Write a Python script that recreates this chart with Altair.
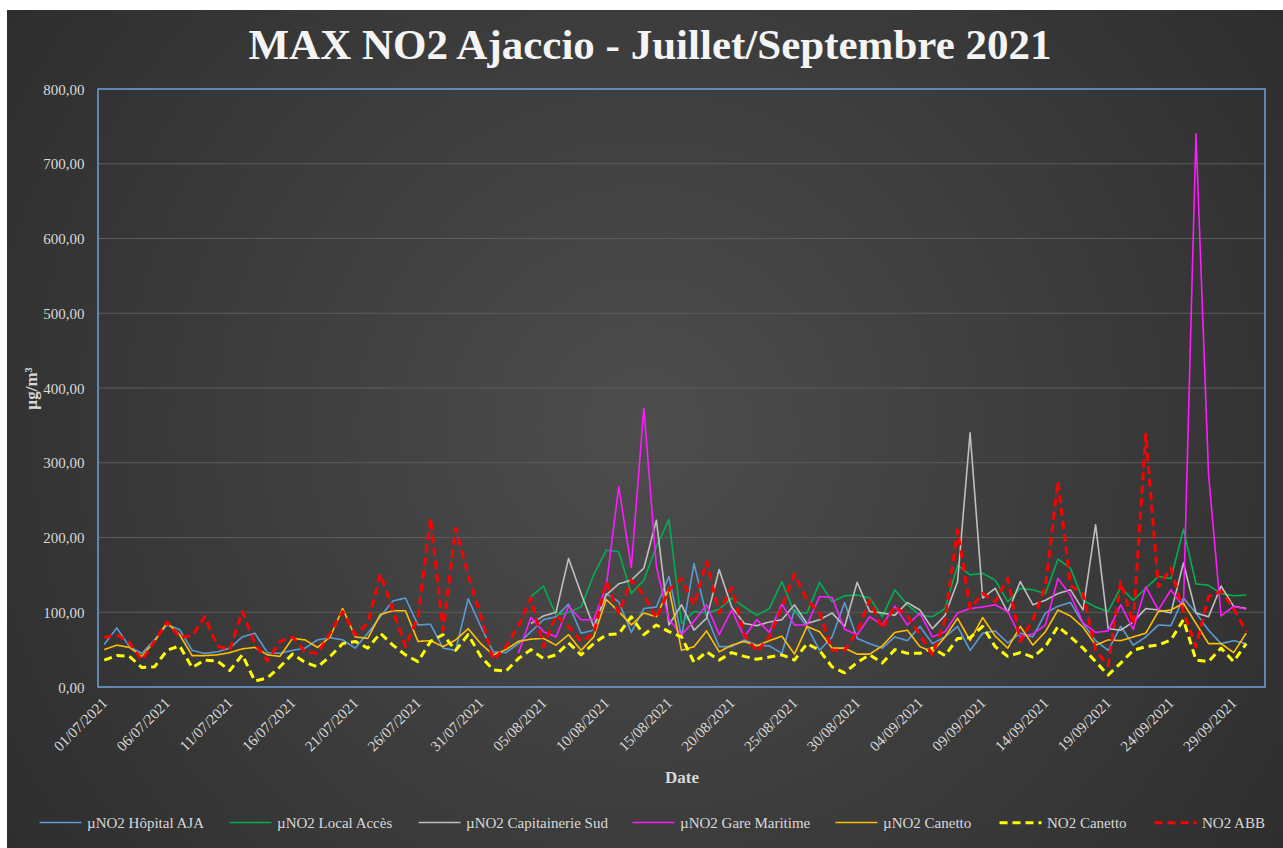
import altair as alt
import pandas as pd

# ---- data: daily maxima, 01/07/2021 -> 30/09/2021 (µg/m³) ----
n_days = 92
dates = pd.date_range("2021-07-01", periods=n_days, freq="D").strftime("%d/%m/%Y").tolist()

hopital = [57, 79, 54, 45, 63, 83, 77, 49, 45, 47,
           52, 67, 72, 46, 45, 49, 52, 63, 66, 63,
           52, 72, 94, 115, 119, 83, 84, 52, 49, 118,
           81, 47, 46, 58, 74, 90, 94, 111, 72, 76,
           125, 114, 73, 105, 107, 148, 67, 165, 95, 54,
           54, 63, 56, 55, 45, 103, 81, 49, 67, 113,
           65, 58, 52, 67, 62, 81, 58, 67, 81, 49,
           72, 75, 59, 72, 67, 99, 108, 113, 85, 62,
           49, 81, 56, 67, 83, 82, 119, 99, 76, 58,
           62, 58]

local_acces = [None] * 34 + [
           121, 135, 96, 100, 107, 150,
           183, 181, 125, 143, 188, 224, 85, 101, 99, 104,
           119, 107, 96, 105, 141, 99, 99, 140, 114, 122,
           123, 119, 94, 130, 110, 96, 94, 105, 163, 150,
           152, 143, 114, 132, 130, 125, 171, 159, 116, 107,
           101, 133, 116, 132, 148, 145, 211, 138, 136, 125,
           122, 123]

capitainerie = [None] * 34 + [
           85, 95, 100, 172, 125, 81,
           123, 138, 143, 159, 223, 83, 110, 76, 92, 157,
           107, 85, 82, 87, 90, 110, 85, 90, 99, 81,
           140, 101, 99, 96, 113, 103, 78, 96, 141, 340,
           119, 132, 100, 141, 110, 116, 125, 130, 103, 217,
           78, 76, 87, 105, 103, 99, 166, 99, 94, 135,
           108, 105]

gare_maritime = [None] * 33 + [
           45, 93, 74, 67, 108, 90, 90,
           134, 268, 160, 373, 161, 90, 70, 88, 110, 70,
           103, 67, 90, 73, 111, 83, 83, 121, 120, 77,
           70, 94, 83, 108, 83, 99, 67, 74, 99, 105,
           107, 110, 101, 67, 71, 83, 145, 123, 86, 73,
           75, 110, 77, 134, 103, 130, 107, 740, 285, 95,
           108, 104]

canetto_micro = [50, 56, 53, 41, 61, 86, 70, 42, 42, 43,
                 46, 51, 53, 43, 41, 65, 63, 53, 67, 105,
                 67, 65, 97, 102, 102, 61, 62, 54, 63, 78,
                 58, 43, 50, 61, 64, 65, 56, 70, 49, 67,
                 117, 101, 83, 99, 94, 132, 49, 54, 75, 47,
                 56, 61, 55, 62, 68, 44, 81, 74, 52, 52,
                 44, 44, 55, 73, 76, 54, 47, 67, 92, 62,
                 93, 68, 52, 81, 56, 74, 103, 95, 80, 56,
                 63, 62, 67, 72, 101, 103, 112, 85, 58, 58,
                 46, 72]

canetto_station = [36, 42, 41, 26, 27, 49, 55, 26, 36, 35,
                   22, 43, 8, 12, 27, 44, 33, 27, 41, 58,
                   61, 52, 72, 56, 43, 34, 61, 70, 49, 70,
                   41, 23, 21, 38, 50, 38, 43, 59, 43, 58,
                   70, 71, 94, 70, 83, 74, 67, 33, 47, 36,
                   46, 41, 37, 40, 43, 36, 58, 49, 27, 19,
                   33, 43, 32, 50, 45, 45, 52, 42, 65, 66,
                   81, 54, 41, 46, 40, 54, 81, 67, 52, 34,
                   16, 32, 49, 54, 56, 63, 90, 36, 34, 52,
                   34, 58]

abb = [66, 70, 59, 36, 61, 87, 67, 68, 94, 55,
       50, 101, 58, 35, 61, 67, 47, 45, 72, 101,
       70, 85, 151, 103, 54, 94, 226, 76, 212, 150,
       95, 36, 54, 81, 119, 54, 96, 81, 61, 71,
       141, 99, 143, 123, 92, 130, 145, 110, 168, 99,
       133, 70, 47, 67, 107, 151, 116, 99, 49, 49,
       74, 116, 78, 108, 95, 70, 43, 90, 210, 105,
       125, 114, 145, 61, 90, 134, 275, 136, 124, 49,
       29, 141, 85, 338, 134, 159, 101, 54, 121, 128,
       105, 74]

series_names = ["µNO2 Hôpital AJA", "µNO2 Local Accès", "µNO2 Capitainerie Sud",
                "µNO2 Gare Maritime", "µNO2 Canetto", "NO2 Canetto", "NO2 ABB"]
series_values = [hopital, local_acces, capitainerie, gare_maritime,
                 canetto_micro, canetto_station, abb]
series_colors = ["#5b9bd5", "#00b050", "#bfbfbf", "#ff1aff", "#ffc000", "#ffff00", "#ff0000"]
series_dash = [[1, 0]] * 5 + [[8, 5]] * 2
series_width = [1.6] * 5 + [3] * 2

y_ticks = [0, 100, 200, 300, 400, 500, 600, 700, 800]
x_ticks = list(range(0, n_days, 5))
chart_title = "MAX NO2 Ajaccio - Juillet/Septembre 2021"

rows = []
for name, vals in zip(series_names, series_values):
    for i, v in enumerate(vals):
        if v is not None:
            rows.append({"jour": i, "date": dates[i], "serie": name, "valeur": v})
df = pd.DataFrame(rows)

# ---- layout ----
W, H = 1167, 598
PAD = {"left": 98, "top": 89, "right": 18, "bottom": 161}
SERIF = "Liberation Serif"
TXT = "#d9d9d9"

x_scale = alt.Scale(domain=[-0.5, n_days + 0.5], nice=False, zero=False)
y_scale = alt.Scale(domain=[0, 800], nice=False)

y_axis = alt.Axis(values=y_ticks, grid=False, domain=False, ticks=False,
                  labelExpr="replace(format(datum.value, '.2f'), '.', ',')",
                  labelPadding=14, labelFont=SERIF, labelFontSize=15,
                  labelColor=TXT, titleFont=SERIF, titleFontSize=17,
                  titleFontWeight="bold", titleColor=TXT, titlePadding=2,
                  zindex=1)
x_axis = alt.Axis(values=x_ticks, grid=False, domain=False, ticks=False,
                  labelExpr="timeFormat(datetime(2021, 6, 1 + datum.value), '%d/%m/%Y')",
                  labelAngle=-45, labelAlign="right", labelBaseline="middle",
                  labelPadding=13, labelFont=SERIF, labelFontSize=15,
                  labelColor=TXT, labelOverlap=False,
                  titleFont=SERIF, titleFontSize=17, titleFontWeight="bold",
                  titleColor=TXT, titlePadding=16, zindex=1)

# dark radial backdrop covering the whole chart frame
backdrop = alt.Chart(alt.Data(values=[{}])).mark_rect(
    fill={"gradient": "radial", "x1": 0.5, "y1": 0.5, "r1": 0,
          "x2": 0.5, "y2": 0.5, "r2": 0.75,
          "stops": [{"offset": 0, "color": "#4d4d4d"},
                    {"offset": 1, "color": "#262626"}]}
).encode(
    x=alt.value(-(PAD["left"] - 7)), x2=alt.value(W + PAD["right"]),
    y=alt.value(-(PAD["top"] - 10)), y2=alt.value(H + PAD["bottom"]),
)

title_mark = alt.Chart(alt.Data(values=[{"t": chart_title}])).mark_text(
    font=SERIF, fontSize=43, fontWeight="bold", color="#f4f4f4",
    align="center", baseline="alphabetic"
).encode(text="t:N", x=alt.value(650 - PAD["left"]), y=alt.value(59 - PAD["top"]))

grid = alt.Chart(pd.DataFrame({"v": y_ticks[1:-1]})).mark_rule(
    color="#5c5c5c", strokeWidth=1
).encode(y=alt.Y("v:Q", scale=y_scale, axis=y_axis, title="µg/m³"))

lines = alt.Chart(df).mark_line(strokeJoin="round").encode(
    x=alt.X("jour:Q", scale=x_scale, title="Date", axis=x_axis),
    y=alt.Y("valeur:Q", scale=y_scale, title="µg/m³", axis=y_axis),
    color=alt.Color("serie:N", scale=alt.Scale(domain=series_names, range=series_colors),
                    legend=alt.Legend(title=None)),
    strokeDash=alt.StrokeDash("serie:N", scale=alt.Scale(domain=series_names, range=series_dash),
                              legend=alt.Legend(title=None)),
    strokeWidth=alt.StrokeWidth("serie:N",
                                scale=alt.Scale(type="ordinal", domain=series_names, range=series_width),
                                legend=alt.Legend(title=None)),
    detail="serie:N",
)

frame = alt.Chart(alt.Data(values=[{}])).mark_rect(
    fillOpacity=0, stroke="#6fa3dc", strokeWidth=1.5
).encode(x=alt.value(0), x2=alt.value(W), y=alt.value(0), y2=alt.value(H))

chart = alt.layer(backdrop, title_mark, grid, lines, frame).properties(
    width=W, height=H,
    autosize=alt.AutoSizeParams(type="none"),
    padding=PAD,
    background="#ffffff",
).configure_view(strokeWidth=0).configure_legend(
    orient="none", legendX=-60, legendY=711, direction="horizontal", columns=7,
    symbolType="stroke", symbolSize=1764, labelFont=SERIF, labelFontSize=15,
    labelColor=TXT, columnPadding=21, labelOffset=4,
)

chart.save("out.html", embed_options={"renderer": "svg", "actions": False})
